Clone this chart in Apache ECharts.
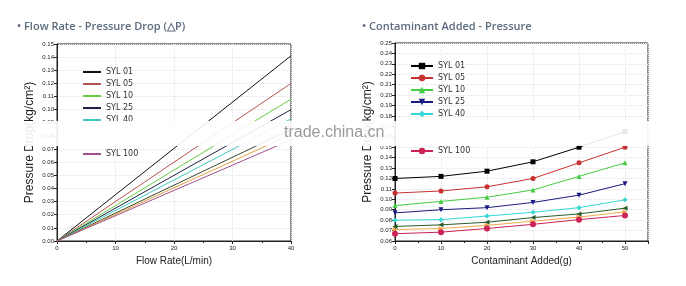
<!DOCTYPE html>
<html>
<head>
<meta charset="utf-8">
<script src="https://cdn.jsdelivr.net/npm/echarts@6/dist/echarts.min.js"></script>
<style>
  html, body { margin: 0; padding: 0; background: #fff; }
  #echarts { width: 686px; height: 286px; }
</style>
</head>
<body>
<div id="echarts"></div>
<script>
// 系列名称
var names = ['SYL 01', 'SYL 05', 'SYL 10', 'SYL 25', 'SYL 40', 'SYL 60', 'SYL 80', 'SYL 100'];
// 左图：流量（端点）
var flowX = [0, 40];
// 左图：各系列在 0 和 40 L/min 的压降
var flowDrop = [
  [0, 0.141],
  [0, 0.120],
  [0, 0.108],
  [0, 0.100],
  [0, 0.093],
  [0, 0.085],
  [0, 0.081],
  [0, 0.077]
];
// 右图：污染物添加量
var dustX = [0, 10, 20, 30, 40, 50];
// 右图：各系列压降
var dustDrop = [
  [0.120, 0.122, 0.127, 0.136, 0.150, 0.165],
  [0.106, 0.108, 0.112, 0.120, 0.135, 0.150],
  [0.094, 0.098, 0.102, 0.109, 0.122, 0.135],
  [0.087, 0.090, 0.092, 0.097, 0.104, 0.115],
  [0.080, 0.0805, 0.084, 0.0875, 0.092, 0.0995],
  [0.074, 0.0755, 0.078, 0.0825, 0.086, 0.0915],
  [0.071, 0.072, 0.075, 0.079, 0.083, 0.088],
  [0.067, 0.0685, 0.072, 0.076, 0.0805, 0.0845]
];

var leftColors = ['#111111', '#b5534f', '#66cc44', '#1f2340', '#40c8c0', '#3a4a2a', '#e0a040', '#a0508a'];
var rightColors = ['#000000', '#c83030', '#44cc44', '#1a1a80', '#33d6d6', '#2a5a2a', '#f0a848', '#cc2255'];
var symbols = ['rect', 'circle', 'triangle', 'triangle', 'diamond', 'triangle', 'triangle', 'circle'];
var rotates = [0, 0, 0, 180, 0, 90, -90, 0];

function pair(xs, ys) {
  var out = [];
  for (var i = 0; i < xs.length; i++) {
    out.push([xs[i], ys[i]]);
  }
  return out;
}

function axisX(idx, max, name) {
  return {
    gridIndex: idx, type: 'value', min: 0, max: max, interval: 10,
    name: name, nameLocation: 'middle', nameGap: 15,
    nameTextStyle: { fontSize: 10, color: '#222', fontFamily: 'Liberation Sans' },
    axisLine: { lineStyle: { color: '#222' } },
    axisTick: { length: 3, lineStyle: { color: '#222' } },
    minorTick: { show: true, splitNumber: 2, length: 2, lineStyle: { color: '#222' } },
    axisLabel: { fontSize: 6, color: '#222', margin: 4, showMaxLabel: max == 40 },
    splitLine: { show: true, lineStyle: { color: '#e4e4e4', type: 'dotted' } }
  };
}

function axisY(idx, min, max) {
  return {
    gridIndex: idx, type: 'value', min: min, max: max, interval: 0.01,
    name: 'Pressure Drop(kg/cm²)', nameLocation: 'middle', nameGap: 21,
    nameTextStyle: { fontSize: 12, color: '#222', fontFamily: 'Liberation Sans' },
    axisLine: { show: true, lineStyle: { color: '#222' } },
    axisTick: { show: true, length: 3, lineStyle: { color: '#222' } },
    axisLabel: {
      fontSize: 6, color: '#222', margin: 3,
      formatter: function (v) { return v.toFixed(2); }
    },
    splitLine: { show: true, lineStyle: { color: '#e4e4e4', type: 'dotted' } }
  };
}

var series = [];
// 左图折线
for (var i = 0; i < names.length; i++) {
  series.push({
    name: names[i], type: 'line', xAxisIndex: 0, yAxisIndex: 0,
    symbol: 'none', data: pair(flowX, flowDrop[i]),
    lineStyle: { width: 1, color: leftColors[i] }, itemStyle: { color: leftColors[i] },
    silent: true
  });
}
// 右图折线
for (var i = 0; i < names.length; i++) {
  series.push({
    name: names[i] + ' ', type: 'line', xAxisIndex: 1, yAxisIndex: 1,
    symbol: symbols[i], symbolRotate: rotates[i], symbolSize: i == 7 ? 6 : 5,
    data: pair(dustX, dustDrop[i]),
    lineStyle: { width: 1, color: rightColors[i] }, itemStyle: { color: rightColors[i] },
    silent: true
  });
}

var legendText = { fontSize: 8, color: '#333', fontFamily: 'DejaVu Sans', lineHeight: 8 };
function legend(left, top, data, w, noSymbol) {
  var lg = {
    orient: 'vertical', left: left, top: top, itemWidth: w, itemHeight: 8, itemGap: 4,
    textStyle: legendText, data: data, selectedMode: false, padding: 0
  };
  if (noSymbol) {
    // 左图图例只画线，不画点
    lg.itemStyle = { opacity: 0 };
  }
  return lg;
}

var chart = echarts.init(document.getElementById('echarts'));
chart.setOption({
  animation: false,
  title: [
    { text: '• Flow Rate - Pressure Drop (△P)', left: 12, top: 16,
      textStyle: { fontSize: 11, fontWeight: 600, color: '#5b6b7c', fontFamily: 'Open Sans' } },
    { text: '• Contaminant Added - Pressure', left: 357, top: 16,
      textStyle: { fontSize: 11, fontWeight: 600, color: '#5b6b7c', fontFamily: 'Open Sans' } }
  ],
  grid: [
    { left: 57, top: 44, width: 234, height: 197, show: true, borderColor: '#222', borderWidth: 1 },
    { left: 395, top: 43, width: 253, height: 198, show: true, borderColor: '#222', borderWidth: 1 }
  ],
  xAxis: [axisX(0, 40, 'Flow Rate(L/min)'), axisX(1, 55, 'Contaminant Added(g)')],
  yAxis: [axisY(0, 0, 0.15), axisY(1, 0.06, 0.25)],
  legend: [
    legend(82, 68, names.slice(0, 5), 18, true),
    legend(82, 150, [names[7]], 18, true),
    legend(410, 62, names.slice(0, 5).map(function (n) { return n + ' '; }), 22, false),
    legend(410, 147, [names[7] + ' '], 22, false)
  ],
  graphic: [
    // 图片上的模糊带与水印
    { type: 'rect', shape: { x: 0, y: 121, width: 686, height: 25 },
      style: { fill: 'rgba(255,255,255,0.9)' }, z: 100 },
    { type: 'text', left: 284, top: 125, z: 101,
      style: { text: 'trade.china.cn', fill: '#9a9a9a', font: '16px Liberation Sans' } }
  ],
  series: series
});
</script>
</body>
</html>
